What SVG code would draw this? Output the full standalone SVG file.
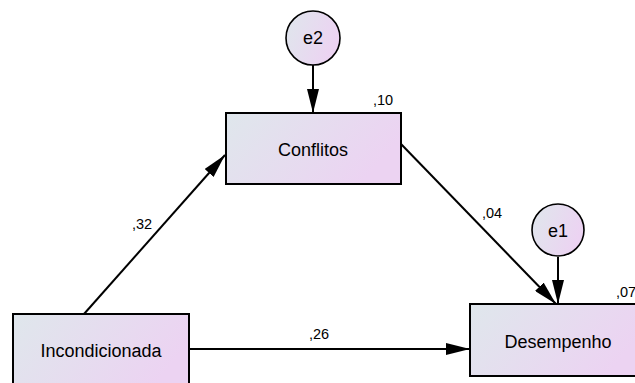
<svg xmlns="http://www.w3.org/2000/svg" width="635" height="383" viewBox="0 0 635 383">
  <defs>
    <linearGradient id="fill" x1="0" y1="0" x2="1" y2="0.35">
      <stop offset="0" stop-color="#dfe7ec"/>
      <stop offset="1" stop-color="#ecd3f2"/>
    </linearGradient>
    <marker id="arrow" viewBox="0 0 24 12" refX="24" refY="6" markerWidth="24" markerHeight="12" markerUnits="userSpaceOnUse" orient="auto">
      <path d="M0,0 L24,6 L0,12 Z" fill="#000"/>
    </marker>
    <style>
      .box { fill: url(#fill); stroke: #000; stroke-width: 2; }
      .err { fill: url(#fill); stroke: #000; stroke-width: 1.6; }
      .name { font-family: "Liberation Sans", Arial, sans-serif; font-size: 18px; fill: #000; text-anchor: middle; }
      .coef { font-family: "Liberation Sans", Arial, sans-serif; font-size: 14.5px; fill: #000; }
      .edge { stroke: #000; stroke-width: 2; fill: none; marker-end: url(#arrow); }
    </style>
  </defs>

  <g id="connectors">
    <line class="edge" x1="313" y1="65" x2="313" y2="113"/>
    <line class="edge" x1="558" y1="257" x2="558" y2="304"/>
    <line class="edge" x1="84" y1="314" x2="225" y2="155"/>
    <line class="edge" x1="401" y1="144" x2="556" y2="304"/>
    <line class="edge" x1="189" y1="349" x2="470" y2="349"/>
  </g>

  <g id="e2">
    <circle class="err" cx="313" cy="38" r="27"/>
    <text class="name" x="313" y="44">e2</text>
  </g>

  <g id="e1">
    <circle class="err" cx="558" cy="230" r="26"/>
    <text class="name" x="558" y="237">e1</text>
  </g>

  <g id="conflitos">
    <rect class="box" x="226" y="113" width="175" height="71"/>
    <text class="name" x="313" y="156">Conflitos</text>
    <text class="coef" x="373" y="105">,10</text>
  </g>

  <g id="incondicionada">
    <rect class="box" x="13" y="314" width="176" height="80"/>
    <text class="name" x="101" y="357">Incondicionada</text>
  </g>

  <g id="desempenho">
    <rect class="box" x="470" y="304" width="176" height="72"/>
    <text class="name" x="558" y="348">Desempenho</text>
    <text class="coef" x="616" y="297">,07</text>
  </g>

  <g id="labels">
    <text class="coef" x="132" y="229">,32</text>
    <text class="coef" x="482" y="218">,04</text>
    <text class="coef" x="309" y="339">,26</text>
  </g>
</svg>
